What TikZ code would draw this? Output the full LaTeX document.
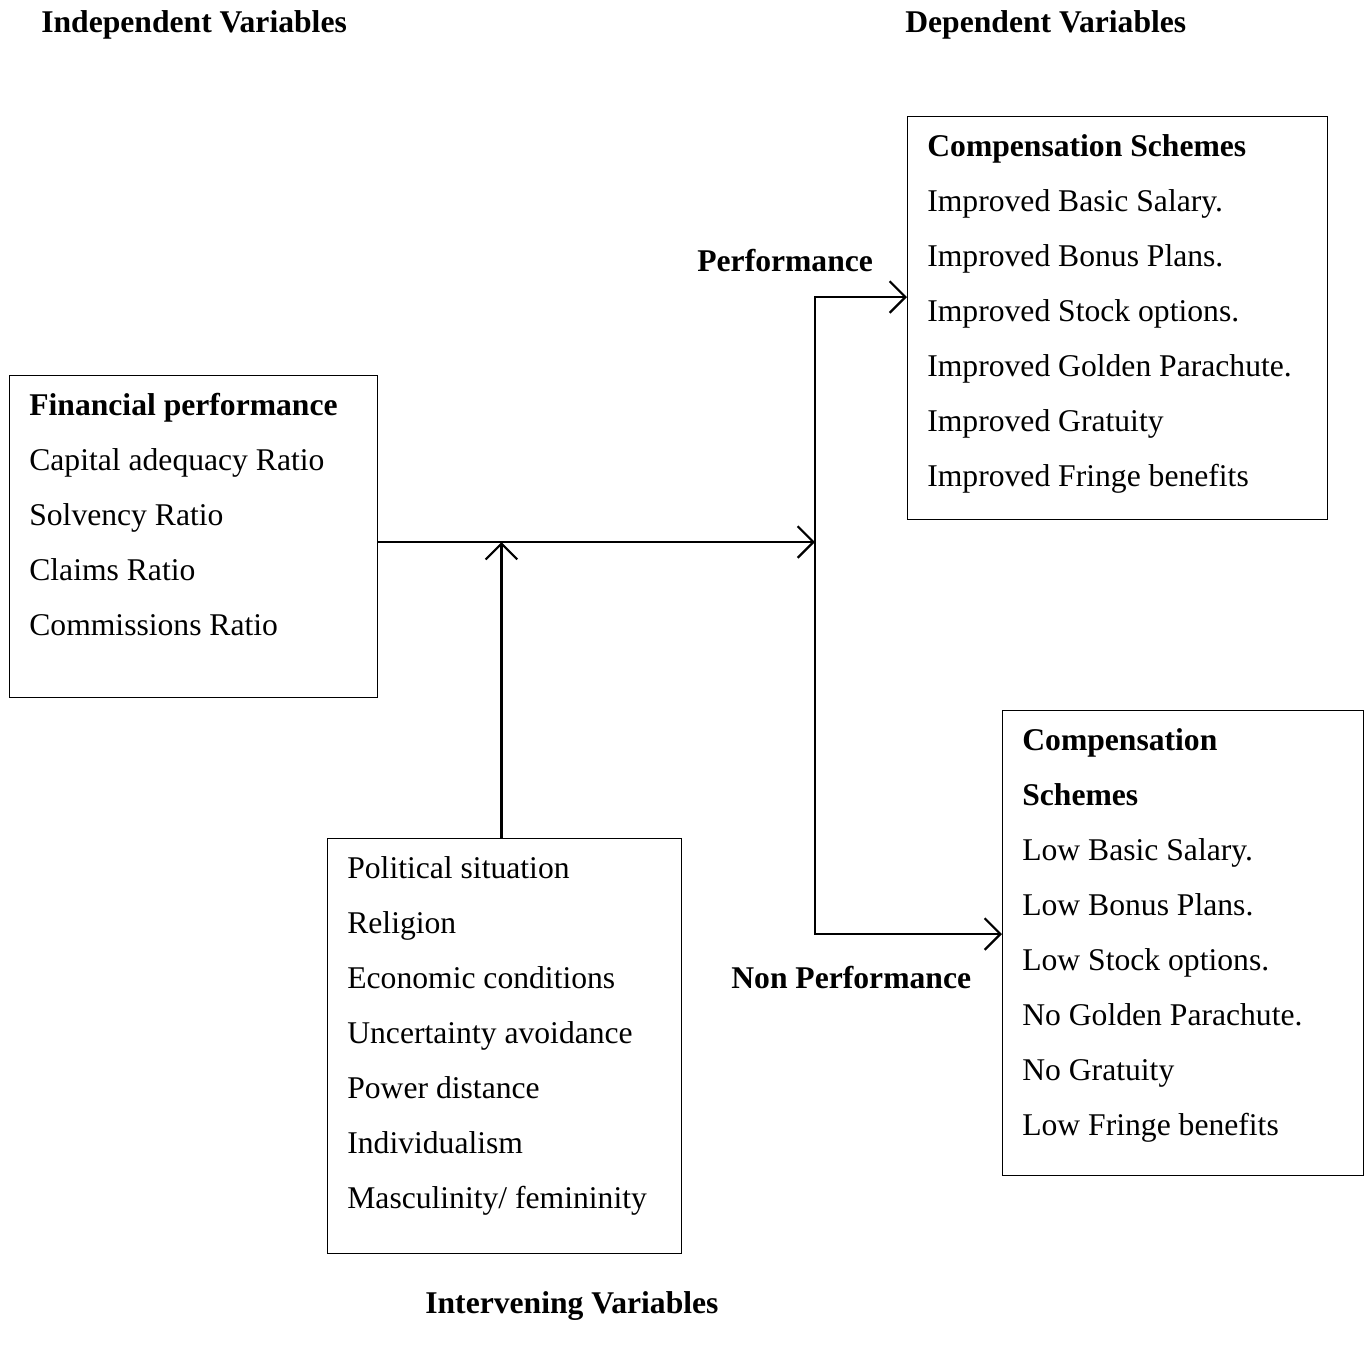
\documentclass[tikz,border=0pt]{standalone}
\usepackage{fontspec}
\setmainfont{Liberation Serif}
\usetikzlibrary{arrows.meta}
\tikzset{varbox/.style = {draw, line width = 0.6pt, inner sep = 0, anchor = north west},
  item/.style = {anchor = base west, inner sep = 0},
  head/.style = {item, font = \fontsize{18}{31}\selectfont\bfseries},
  flow/.style = {line width = 1.2pt, -{Straight Barb[length = 9pt, width = 18pt, line width = 1.3pt]}}}

\begin{document}
\begin{tikzpicture}[x = 0.02cm, y = -0.02cm, font = \fontsize{18}{31}\selectfont]
    \useasboundingbox (0, 0) rectangle (1367, 1347);

    \node [head] (indep) at (41, 32) {Independent Variables};
    \node [head] (dep) at (905, 32) {Dependent Variables};
    \node [head] (interv) at (425, 1313) {Intervening Variables};
    \node [head] (perf) at (697, 271) {Performance};
    \node [head] (nonperf) at (731, 988) {Non Performance};

    \node [varbox, minimum width = 7.36cm, minimum height = 6.44cm] (fin) at (9, 375) {};
    \node [head] (fin-0) at (29, 415) {Financial performance};
    \foreach \t [count = \i] in {Capital adequacy Ratio, Solvency Ratio, Claims Ratio, Commissions Ratio}
      \node [item] (fin-\i) at (29, 415 + 55*\i) {\t};

    \node [varbox, minimum width = 8.4cm, minimum height = 8.06cm] (comp) at (907, 116) {};
    \node [head] (comp-0) at (927, 156) {Compensation Schemes};
    \foreach \t [count = \i] in {Improved Basic Salary., Improved Bonus Plans., Improved Stock options.,
        Improved Golden Parachute., Improved Gratuity, Improved Fringe benefits}
      \node [item] (comp-\i) at (927, 156 + 55*\i) {\t};

    \node [varbox, minimum width = 7.22cm, minimum height = 9.3cm] (low) at (1002, 710) {};
    \node [head] (low-0) at (1022, 750) {Compensation};
    \node [head] (low-00) at (1022, 805) {Schemes};
    \foreach \t [count = \i] in {Low Basic Salary., Low Bonus Plans., Low Stock options.,
        No Golden Parachute., No Gratuity, Low Fringe benefits}
      \node [item] (low-\i) at (1022, 805 + 55*\i) {\t};

    \node [varbox, minimum width = 7.08cm, minimum height = 8.3cm] (inter) at (327, 838) {};
    \foreach \t [count = \i] in {Political situation, Religion, Economic conditions, Uncertainty avoidance,
        Power distance, Individualism, Masculinity/ femininity}
      \node [item] (inter-\i) at (347, 823 + 55*\i) {\t};

    \coordinate (split) at (815, 542);
    \coordinate (up) at (815, 297);
    \coordinate (down) at (815, 934);

    \draw [flow] (fin.east |- split) -- (split);
    \draw [flow] ([xshift = -0.06cm] inter.north) -- ([xshift = -0.06cm] inter.north |- split);
    \draw [flow] (split) -- (up) -- (up -| comp.west);
    \draw [flow] (split) -- (down) -- (down -| low.west);
\end{tikzpicture}
\end{document}
